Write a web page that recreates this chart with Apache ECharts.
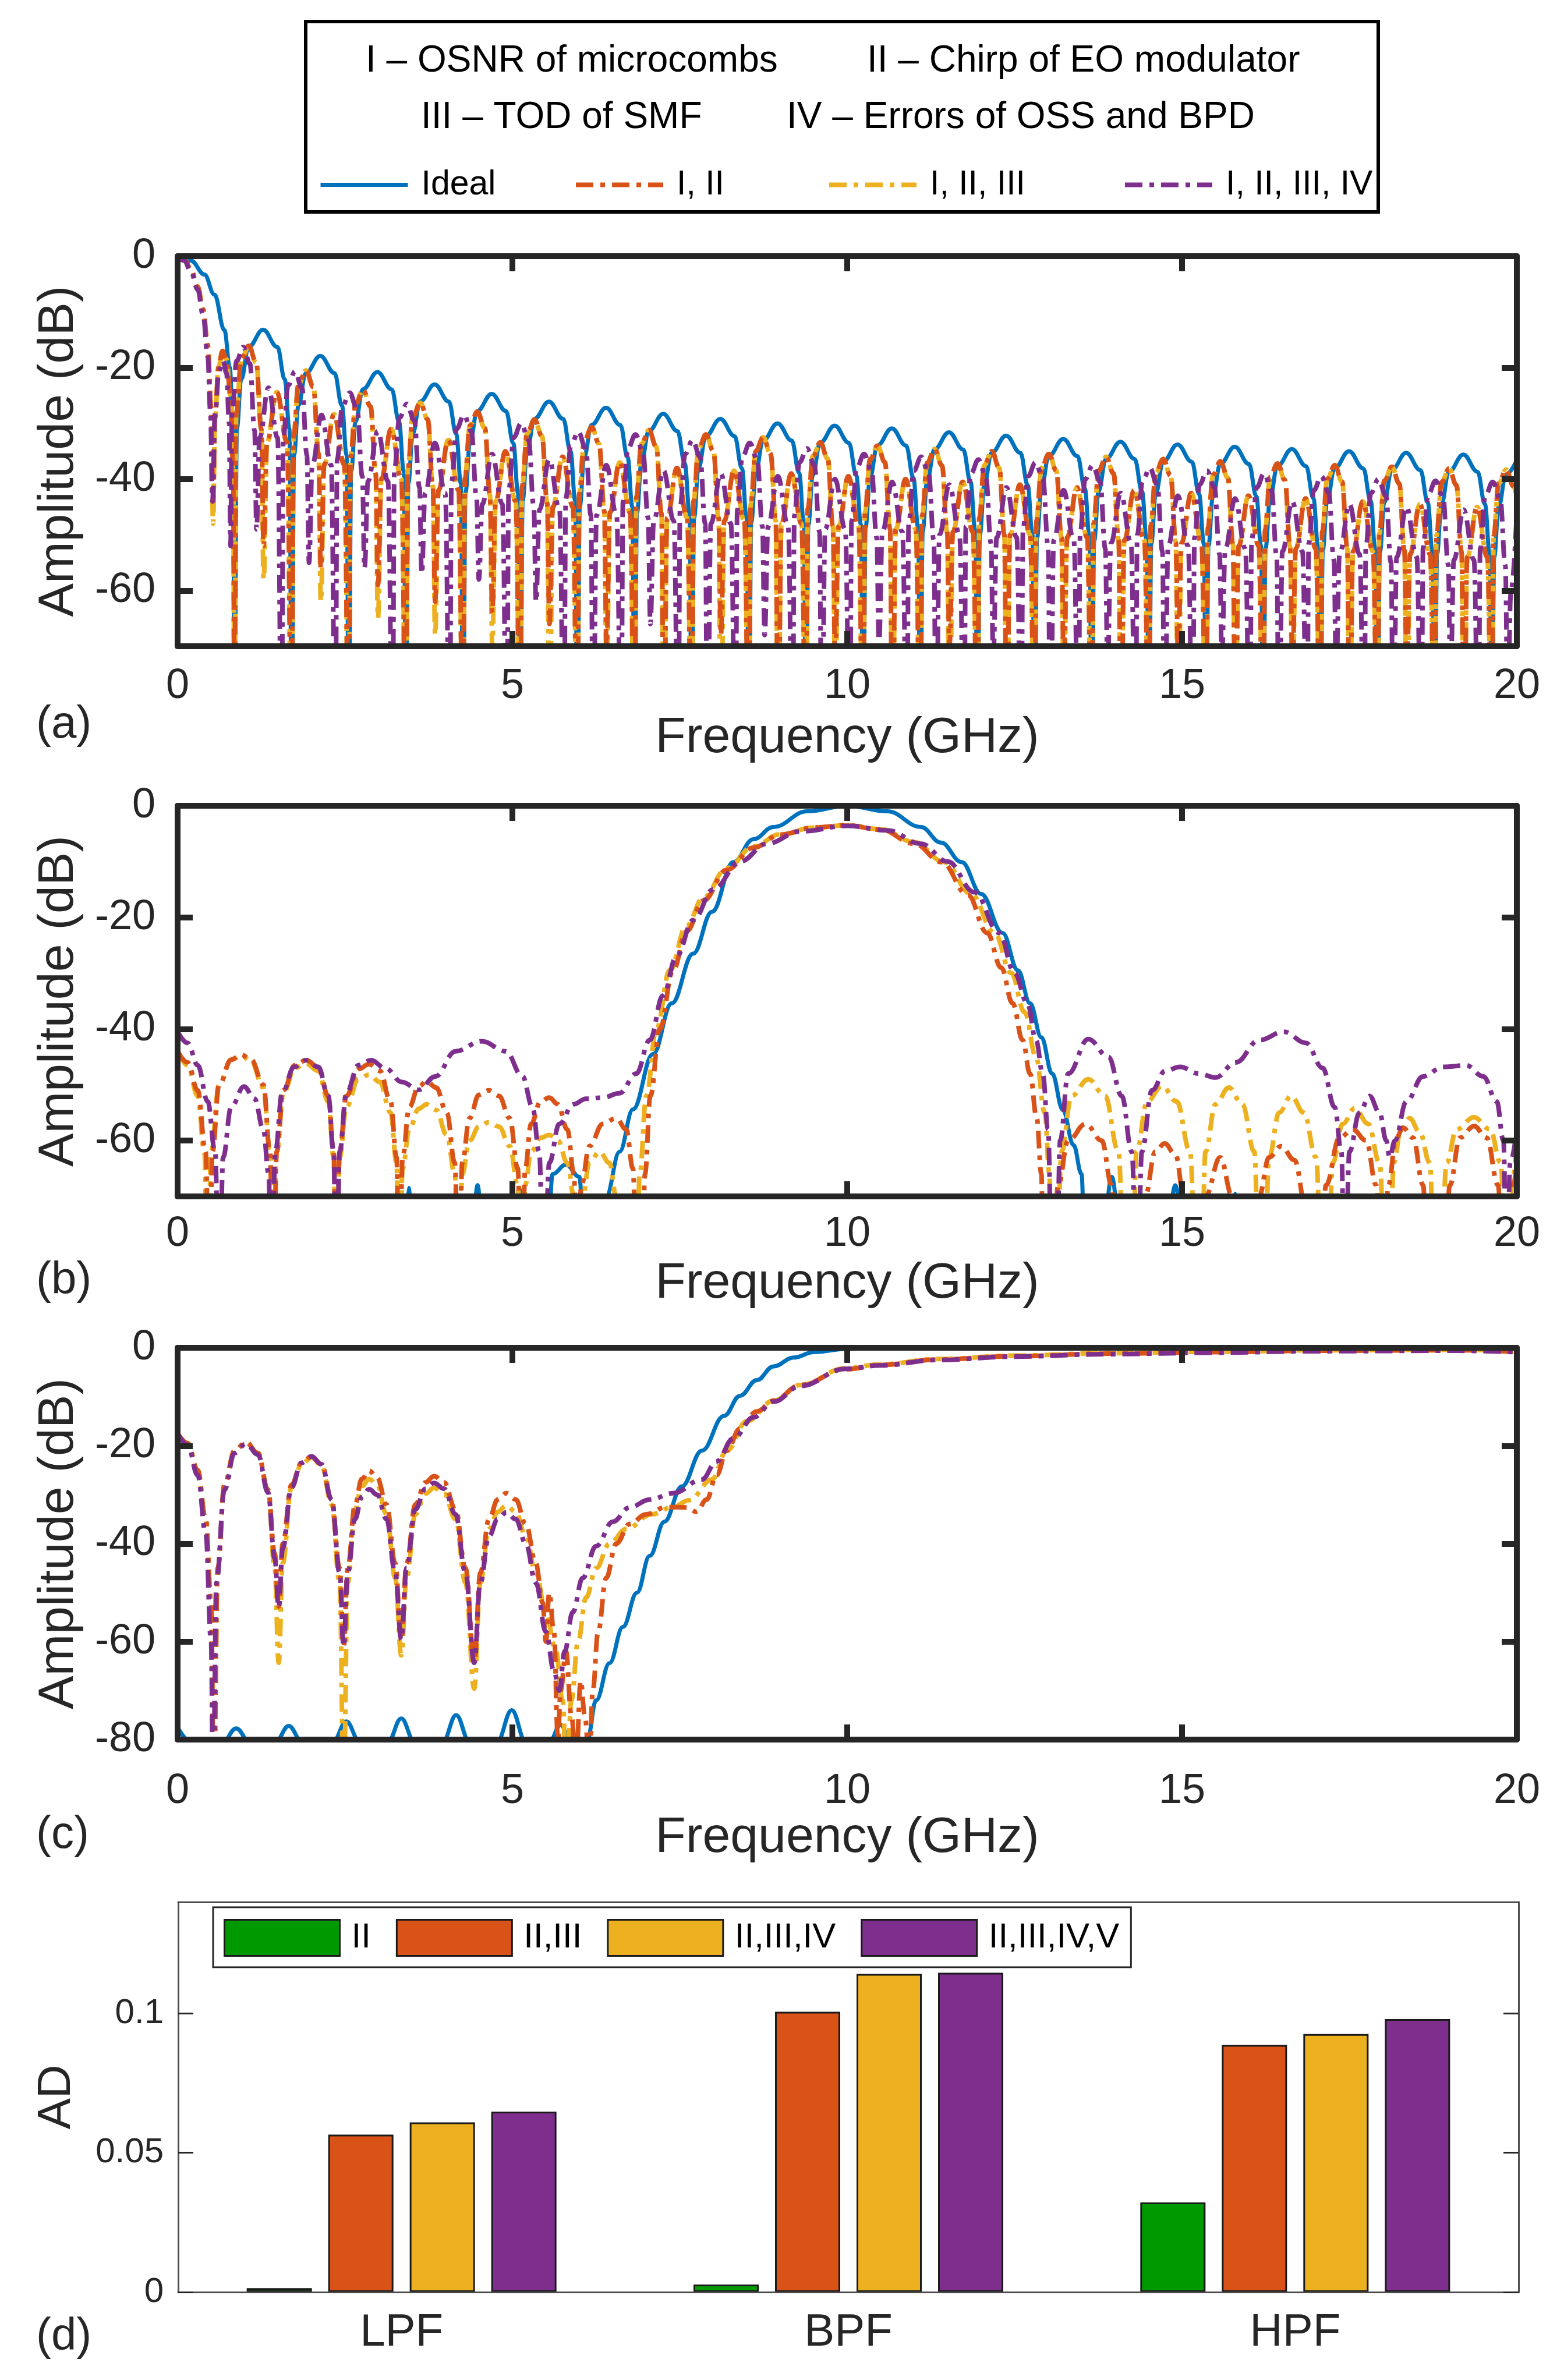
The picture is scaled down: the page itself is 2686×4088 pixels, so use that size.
<!DOCTYPE html>
<html>
<head>
<meta charset="utf-8">
<script src="https://cdn.jsdelivr.net/npm/echarts@6/dist/echarts.min.js"></script>
<style>
html,body{margin:0;padding:0;background:#fff;}
#chart{width:2686px;height:4088px;}
</style>
</head>
<body>
<div id="chart"></div>
<script>
// ---------------- DATA ----------------
const seriesNames = ['Ideal', 'I, II', 'I, II, III', 'I, II, III, IV'];
const legendNotes = ['I – OSNR of microcombs', 'II – Chirp of EO modulator', 'III – TOD of SMF', 'IV – Errors of OSS and BPD'];
const freqTicks = [0, 5, 10, 15, 20];
const dbTicksAB = [-60, -40, -20, 0];
const dbTicksC = [-80, -60, -40, -20, 0];
const adTicks = [0, 0.05, 0.1];

// (a) LPF-like response: frequency (GHz) and amplitude (dB)
const aIdealX = [0,0.2,0.4,0.55,0.7,0.78,0.83,0.85,
0.885,0.950,1.060,1.277,1.490,1.600,1.670,1.704,
1.739,1.804,1.914,2.131,2.344,2.454,2.524,2.557,
2.592,2.657,2.767,2.984,3.197,3.307,3.377,3.411,
3.446,3.511,3.621,3.838,4.051,4.161,4.231,4.264,
4.299,4.364,4.474,4.691,4.904,5.014,5.084,5.118,
5.153,5.218,5.328,5.545,5.758,5.868,5.938,5.971,
6.006,6.071,6.181,6.398,6.611,6.721,6.791,6.825,
6.860,6.925,7.035,7.252,7.465,7.575,7.645,7.678,
7.713,7.778,7.888,8.105,8.318,8.428,8.498,8.532,
8.567,8.632,8.742,8.959,9.172,9.282,9.352,9.385,
9.420,9.485,9.595,9.812,10.025,10.135,10.205,10.239,
10.274,10.339,10.449,10.666,10.879,10.989,11.059,11.092,
11.127,11.192,11.302,11.519,11.732,11.842,11.912,11.946,
11.981,12.046,12.156,12.373,12.586,12.696,12.766,12.799,
12.834,12.899,13.009,13.226,13.439,13.549,13.619,13.653,
13.688,13.753,13.863,14.080,14.293,14.403,14.473,14.506,
14.541,14.606,14.716,14.933,15.146,15.256,15.326,15.360,
15.395,15.460,15.570,15.787,16.000,16.110,16.180,16.213,
16.248,16.313,16.423,16.640,16.853,16.963,17.033,17.067,
17.102,17.167,17.277,17.494,17.707,17.817,17.887,17.920,
17.955,18.020,18.130,18.347,18.560,18.670,18.740,18.774,
18.809,18.874,18.984,19.201,19.414,19.524,19.594,19.627,
19.662,19.727,19.837,20.0];
const aIdealY = [0,-0.8,-3.3,-6.9,-13.3,-20,-32,-90,
-31.0,-22.1,-16.3,-13.2,-16.3,-22.1,-31.0,-90,
-35.7,-26.8,-21.0,-17.9,-21.0,-26.8,-35.7,-90,
-38.6,-29.7,-23.9,-20.8,-23.9,-29.7,-38.6,-90,
-40.8,-31.9,-26.1,-23.0,-26.1,-31.9,-40.8,-90,
-42.5,-33.6,-27.8,-24.7,-27.8,-33.6,-42.5,-90,
-43.9,-35.0,-29.2,-26.1,-29.2,-35.0,-43.9,-90,
-45.0,-36.1,-30.3,-27.2,-30.3,-36.1,-45.0,-90,
-46.1,-37.2,-31.4,-28.3,-31.4,-37.2,-46.1,-90,
-47.0,-38.1,-32.3,-29.2,-32.3,-38.1,-47.0,-90,
-47.8,-38.9,-33.1,-30.0,-33.1,-38.9,-47.8,-90,
-48.2,-39.3,-33.5,-30.4,-33.5,-39.3,-48.2,-90,
-48.7,-39.8,-34.0,-30.9,-34.0,-39.8,-48.7,-90,
-49.4,-40.5,-34.7,-31.6,-34.7,-40.5,-49.4,-90,
-50.0,-41.1,-35.3,-32.2,-35.3,-41.1,-50.0,-90,
-50.6,-41.7,-35.9,-32.8,-35.9,-41.7,-50.6,-90,
-51.1,-42.2,-36.4,-33.3,-36.4,-42.2,-51.1,-90,
-51.6,-42.7,-36.9,-33.8,-36.9,-42.7,-51.6,-90,
-52.0,-43.1,-37.3,-34.2,-37.3,-43.1,-52.0,-90,
-52.4,-43.5,-37.7,-34.6,-37.7,-43.5,-52.4,-90,
-52.8,-43.9,-38.1,-35.0,-38.1,-43.9,-52.8,-90,
-53.1,-44.2,-38.4,-35.3,-38.4,-44.2,-53.1,-90,
-53.4,-44.5,-38.7,-35.6,-38.7,-44.5,-53.4,-90,
-54,-45,-39.2,-36.6];

const aOrangeX = [0,0.1,0.2,0.3,0.38,0.45,0.5,0.53,0.56,0.61,0.67,0.73,0.79,0.83,0.85,
0.876,0.952,1.063,1.174,1.251,1.285,1.336,1.482,1.635,1.704,
1.730,1.806,1.917,2.028,2.105,2.139,2.190,2.336,2.489,2.557,
2.583,2.659,2.770,2.881,2.958,2.992,3.043,3.189,3.342,3.411,
3.437,3.513,3.624,3.735,3.812,3.846,3.897,4.043,4.196,4.264,
4.290,4.366,4.477,4.588,4.665,4.699,4.750,4.896,5.049,5.118,
5.144,5.220,5.331,5.442,5.519,5.553,5.604,5.750,5.903,5.971,
5.997,6.073,6.184,6.295,6.372,6.406,6.457,6.603,6.756,6.825,
6.851,6.927,7.038,7.149,7.226,7.260,7.311,7.457,7.610,7.678,
7.704,7.780,7.891,8.002,8.079,8.113,8.164,8.310,8.463,8.532,
8.558,8.634,8.745,8.856,8.933,8.967,9.018,9.164,9.317,9.385,
9.411,9.487,9.598,9.709,9.786,9.820,9.871,10.017,10.170,10.239,
10.265,10.341,10.452,10.563,10.640,10.674,10.725,10.871,11.024,11.092,
11.118,11.194,11.305,11.416,11.493,11.527,11.578,11.724,11.877,11.946,
11.972,12.048,12.159,12.270,12.347,12.381,12.432,12.578,12.731,12.799,
12.825,12.901,13.012,13.123,13.200,13.234,13.285,13.431,13.584,13.653,
13.679,13.755,13.866,13.977,14.054,14.088,14.139,14.285,14.438,14.506,
14.532,14.608,14.719,14.830,14.907,14.941,14.992,15.138,15.291,15.360,
15.386,15.462,15.573,15.684,15.761,15.795,15.846,15.992,16.145,16.213,
16.239,16.315,16.426,16.537,16.614,16.648,16.699,16.845,16.998,17.067,
17.093,17.169,17.280,17.391,17.468,17.502,17.553,17.699,17.852,17.920,
17.946,18.022,18.133,18.244,18.321,18.355,18.406,18.552,18.705,18.774,
18.800,18.876,18.987,19.098,19.175,19.209,19.260,19.406,19.559,19.627,
19.653,19.729,19.840,19.951,20.0];
const aOrangeY = [0,-0.6,-2.4,-5.5,-9.5,-16,-27,-44,-29,-20,-17,-18.5,-25,-38,-90,
-28.1,-18.6,-16.1,-19.1,-31.1,-52,-33.4,-24.4,-33.4,-90,
-32.5,-23.0,-20.5,-23.5,-35.5,-56,-37.4,-28.4,-37.4,-90,
-36,-26.5,-24,-27,-39,-59,-40,-31,-40,-90,
-38.3,-28.8,-26.3,-29.3,-41.3,-62,-42,-33,-42,-90,
-39.9,-30.4,-27.9,-30.9,-42.9,-64,-44,-35,-44,-90,
-41.3,-31.8,-29.3,-32.3,-44.3,-66,-45,-36,-45,-90,
-42.7,-33.2,-30.7,-33.7,-45.7,-70,-46,-37,-46,-90,
-43.2,-33.7,-31.2,-34.2,-46.2,-90,-47,-38,-47,-90,
-44,-34.5,-32,-35,-47,-68,-47.5,-38.5,-47.5,-90,
-44.5,-35,-32.5,-35.5,-47.5,-90,-48,-39,-48,-90,
-45.4,-35.9,-33.4,-36.4,-48.4,-72,-48.5,-39.5,-48.5,-90,
-46,-36.5,-34,-37,-49,-90,-49,-40,-49,-90,
-46.6,-37.1,-34.6,-37.6,-49.6,-70,-49.5,-40.5,-49.5,-90,
-47,-37.5,-35,-38,-50,-90,-50,-41,-50,-90,
-47.5,-38,-35.5,-38.5,-50.5,-75,-50.5,-41.5,-50.5,-90,
-48,-38.5,-36,-39,-51,-90,-51,-42,-51,-90,
-48.4,-38.9,-36.4,-39.4,-51.4,-72,-51.5,-42.5,-51.5,-90,
-48.8,-39.3,-36.8,-39.8,-51.8,-90,-52,-43,-52,-90,
-49.2,-39.7,-37.2,-40.2,-52.2,-74,-52.5,-43.5,-52.5,-90,
-49.5,-40,-37.5,-40.5,-52.5,-90,-53,-44,-53,-90,
-49.8,-40.3,-37.8,-40.8,-52.8,-76,-53.5,-44.5,-53.5,-90,
-50.1,-40.6,-38.1,-41.1,-53.1,-90,-54,-45,-54,-90,
-50.3,-40.8,-38.3,-41.3,-43.5];
const aYellowY = [0,-0.6,-2.4,-5.5,-9.5,-16,-27,-48,-29,-20,-17,-18.5,-25,-38,-90,
-28.1,-18.6,-16.1,-19.1,-31.1,-58,-33.4,-24.4,-33.4,-90,
-32.5,-23.0,-20.5,-23.5,-35.5,-62,-37.4,-28.4,-37.4,-90,
-36,-26.5,-24,-27,-39,-65,-40,-31,-40,-90,
-38.3,-28.8,-26.3,-29.3,-41.3,-68,-42,-33,-42,-90,
-39.9,-30.4,-27.9,-30.9,-42.9,-70,-44,-35,-44,-90,
-41.3,-31.8,-29.3,-32.3,-44.3,-90,-45,-36,-45,-90,
-42.7,-33.2,-30.7,-33.7,-45.7,-76,-46,-37,-46,-90,
-43.2,-33.7,-31.2,-34.2,-46.2,-90,-47,-38,-47,-90,
-44,-34.5,-32,-35,-47,-90,-47.5,-38.5,-47.5,-90,
-44.5,-35,-32.5,-35.5,-47.5,-90,-48,-39,-48,-90,
-45.4,-35.9,-33.4,-36.4,-48.4,-78,-48.5,-39.5,-48.5,-90,
-46,-36.5,-34,-37,-49,-90,-49,-40,-49,-90,
-46.6,-37.1,-34.6,-37.6,-49.6,-90,-49.5,-40.5,-49.5,-90,
-47,-37.5,-35,-38,-50,-90,-50,-41,-50,-90,
-47.5,-38,-35.5,-38.5,-50.5,-80,-50.5,-41.5,-50.5,-90,
-48,-38.5,-36,-39,-51,-90,-51,-42,-51,-90,
-48.4,-38.9,-36.4,-39.4,-51.4,-90,-51.5,-42.5,-51.5,-90,
-48.8,-39.3,-36.8,-39.8,-51.8,-90,-52,-43,-52,-90,
-49.2,-39.7,-37.2,-40.2,-52.2,-80,-52.5,-43.5,-52.5,-90,
-49.5,-40,-37.5,-40.5,-52.5,-90,-53,-44,-53,-90,
-49.8,-40.3,-37.8,-40.8,-52.8,-90,-53.5,-44.5,-53.5,-90,
-50.1,-40.6,-38.1,-41.1,-53.1,-90,-54,-45,-54,-90,
-50.3,-40.8,-38.3,-41.3,-43.5];

const aPurpleX = [0,0.1,0.2,0.3,0.38,0.45,0.49,0.52,0.56,0.62,0.68,0.73,0.77,0.79,
0.813,0.881,0.981,1.080,1.149,1.179,1.225,1.356,1.493,1.554,
1.578,1.650,1.754,1.859,1.931,1.963,2.011,2.149,2.293,2.357,
2.383,2.459,2.570,2.681,2.758,2.792,2.843,2.989,3.142,3.211,
3.237,3.313,3.424,3.535,3.612,3.646,3.697,3.843,3.996,4.064,
4.090,4.166,4.277,4.388,4.465,4.499,4.550,4.696,4.849,4.918,
4.944,5.020,5.131,5.242,5.319,5.353,5.404,5.550,5.703,5.771,
5.797,5.873,5.984,6.095,6.172,6.206,6.257,6.403,6.556,6.625,
6.651,6.727,6.838,6.949,7.026,7.060,7.111,7.257,7.410,7.478,
7.504,7.580,7.691,7.802,7.879,7.913,7.964,8.110,8.263,8.332,
8.358,8.434,8.545,8.656,8.733,8.767,8.818,8.964,9.117,9.185,
9.211,9.287,9.398,9.509,9.586,9.620,9.671,9.817,9.970,10.039,
10.065,10.141,10.252,10.363,10.440,10.474,10.525,10.671,10.824,10.892,
10.918,10.994,11.105,11.216,11.293,11.327,11.378,11.524,11.677,11.746,
11.772,11.848,11.959,12.070,12.147,12.181,12.232,12.378,12.531,12.599,
12.625,12.701,12.812,12.923,13.000,13.034,13.085,13.231,13.384,13.453,
13.479,13.555,13.666,13.777,13.854,13.888,13.939,14.085,14.238,14.306,
14.332,14.408,14.519,14.630,14.707,14.741,14.792,14.938,15.091,15.160,
15.186,15.262,15.373,15.484,15.561,15.595,15.646,15.792,15.945,16.013,
16.039,16.115,16.226,16.337,16.414,16.448,16.499,16.645,16.798,16.867,
16.893,16.969,17.080,17.191,17.268,17.302,17.353,17.499,17.652,17.720,
17.746,17.822,17.933,18.044,18.121,18.155,18.206,18.352,18.505,18.574,
18.600,18.676,18.787,18.898,18.975,19.009,19.060,19.206,19.359,19.427,
19.453,19.529,19.640,19.751,19.828,19.862,19.913,20.0];
const aPurpleY = [0,-0.8,-2.8,-6,-10.5,-18,-28,-44,-28,-20.5,-18.8,-21,-30,-52,
-28.3,-18.8,-16.3,-19.3,-31.3,-49,-32.6,-23.6,-32.6,-90,
-32.7,-23.2,-20.7,-23.7,-35.7,-55,-37.5,-28.5,-37.5,-90,
-36.5,-27,-24.5,-27.5,-39.5,-56,-40.4,-31.4,-40.4,-90,
-38.5,-29,-26.5,-29.5,-41.5,-57,-42.5,-33.5,-42.5,-90,
-40.5,-31,-28.5,-31.5,-43.5,-58,-44.5,-35.5,-44.5,-90,
-42,-32.5,-30,-33,-45,-62,-45.5,-36.5,-45.5,-90,
-43.5,-34,-31.5,-34.5,-46.5,-90,-46.5,-37.5,-46.5,-90,
-44,-34.5,-32,-35,-47,-66,-47.5,-38.5,-47.5,-90,
-45,-35.5,-33,-36,-48,-90,-48,-39,-48,-90,
-45.5,-36,-33.5,-36.5,-48.5,-68,-48.5,-39.5,-48.5,-90,
-46.5,-37,-34.5,-37.5,-49.5,-90,-49,-40,-49,-90,
-47.5,-38,-35.5,-38.5,-50.5,-70,-49.5,-40.5,-49.5,-90,
-48,-38.5,-36,-39,-51,-90,-50,-41,-50,-90,
-48.5,-39,-36.5,-39.5,-51.5,-72,-50.5,-41.5,-50.5,-90,
-49,-39.5,-37,-40,-52,-90,-51,-42,-51,-90,
-49.5,-40,-37.5,-40.5,-52.5,-74,-51.5,-42.5,-51.5,-90,
-50,-40.5,-38,-41,-53,-90,-52,-43,-52,-90,
-50.5,-41,-38.5,-41.5,-53.5,-72,-52.5,-43.5,-52.5,-90,
-51,-41.5,-39,-42,-54,-90,-53,-44,-53,-90,
-51.5,-42,-39.5,-42.5,-54.5,-75,-53.5,-44.5,-53.5,-90,
-52,-42.5,-40,-43,-55,-90,-54,-45,-54,-90,
-52.3,-42.8,-40.3,-43.3,-55.3,-76,-54.5,-45.5,-54.5,-90,
-52.5,-43,-40.5,-43.5,-55.5,-80,-60,-46];

// (b) BPF response [GHz, dB]
const bIdeal = [[3.35,-90],[3.45,-68.5],[3.55,-90],[4.35,-90],[4.48,-68],[4.6,-90],[5.0,-90],[5.1,-68.5],[5.2,-90],[5.5,-90],[5.6,-66],[5.8,-64.3],[6.0,-66.5],[6.1,-90],[6.3,-90],[6.4,-70],[6.6,-62],[6.8,-54.4],[7.1,-44.5],[7.38,-35.4],[7.7,-26.5],[7.98,-19],[8.3,-10.1],[8.6,-6],[8.9,-3.8],[9.4,-1.0],[10.0,0],[10.6,-1.0],[11.1,-3.8],[11.4,-6.6],[11.71,-10.1],[12.0,-15.8],[12.32,-22.8],[12.55,-29.5],[12.73,-35.4],[12.9,-41.5],[13.06,-48],[13.22,-54.5],[13.38,-60.8],[13.5,-66],[13.56,-90],[13.75,-90],[13.95,-66.5],[14.15,-90],[14.7,-90],[14.9,-68],[15.1,-90],[15.7,-90],[15.8,-69.5],[15.9,-90]];
const bOrange = [[0,-44],[0.15,-46],[0.3,-51],[0.42,-62],[0.47,-90],[0.52,-62],[0.62,-50],[0.8,-45.5],[0.95,-44.6],[1.1,-45.5],[1.28,-50],[1.38,-62],[1.43,-90],[1.48,-62],[1.58,-51],[1.75,-46.5],[1.92,-45.6],[2.1,-46.8],[2.25,-52],[2.33,-62],[2.37,-90],[2.42,-62],[2.52,-52],[2.7,-47.2],[2.86,-46.3],[3.02,-47.5],[3.18,-53],[3.27,-63],[3.31,-90],[3.36,-63],[3.46,-54],[3.6,-50.3],[3.72,-49.4],[3.86,-50.5],[4.02,-55],[4.14,-64],[4.2,-90],[4.25,-64],[4.36,-56],[4.5,-51.8],[4.65,-51],[4.8,-52],[4.96,-56],[5.08,-65],[5.14,-90],[5.19,-65],[5.28,-57],[5.42,-53],[5.55,-52.3],[5.68,-53.5],[5.82,-58],[5.92,-66],[5.96,-90],[6.03,-68],[6.15,-61],[6.35,-57],[6.55,-56],[6.7,-58],[6.8,-65],[6.86,-90],[6.93,-90],[6.98,-66],[7.06,-52],[7.2,-40],[7.4,-29.5],[7.6,-22.5],[7.85,-17],[8.2,-11.5],[8.6,-7.5],[9.0,-5.2],[9.5,-3.9],[10.0,-3.5],[10.5,-4.3],[11.0,-6.8],[11.41,-10.1],[11.8,-16],[12.09,-22.8],[12.3,-29],[12.47,-35.4],[12.62,-42],[12.73,-48],[12.83,-56],[12.9,-66],[12.93,-90],[13.05,-90],[13.15,-68],[13.3,-60],[13.56,-57],[13.8,-60],[13.95,-68],[14.02,-90],[14.3,-90],[14.45,-70],[14.6,-62],[14.74,-60.5],[14.9,-62.5],[15.05,-72],[15.12,-90],[15.25,-90],[15.35,-70],[15.57,-63],[15.75,-70],[15.85,-90],[16.05,-90],[16.15,-70],[16.3,-63],[16.48,-61],[16.68,-63.5],[16.85,-72],[16.92,-90],[17.05,-90],[17.15,-68],[17.35,-59.5],[17.55,-58],[17.75,-60],[17.9,-68],[17.97,-90],[18.0,-90],[18.08,-68],[18.2,-59.5],[18.3,-57.7],[18.45,-59.5],[18.6,-68],[18.68,-90],[18.9,-90],[19.0,-68],[19.15,-59.5],[19.36,-57.4],[19.55,-59.5],[19.72,-68],[19.8,-90],[19.88,-90],[19.95,-68],[20,-63]];
const bYellow = [[0,-44],[0.15,-46.5],[0.3,-52],[0.4,-62],[0.45,-90],[0.5,-62],[0.62,-50],[0.8,-45.5],[0.95,-44.8],[1.1,-45.8],[1.28,-50.5],[1.38,-62],[1.43,-90],[1.48,-62],[1.58,-51.5],[1.75,-47],[1.92,-46.2],[2.1,-47.5],[2.25,-53],[2.33,-63],[2.37,-90],[2.42,-63],[2.52,-54],[2.7,-49],[2.86,-48.2],[3.02,-49.5],[3.18,-55],[3.27,-64],[3.31,-90],[3.36,-65],[3.46,-58],[3.6,-54.3],[3.72,-53.5],[3.86,-54.5],[4.02,-59],[4.14,-66],[4.2,-90],[4.25,-66],[4.36,-60],[4.5,-57.5],[4.65,-56.7],[4.8,-57.5],[4.96,-61],[5.08,-68],[5.14,-90],[5.19,-68],[5.28,-62],[5.42,-59.5],[5.55,-59],[5.68,-60],[5.82,-64],[5.92,-70],[5.96,-90],[6.05,-70],[6.15,-64],[6.3,-62],[6.45,-64],[6.55,-70],[6.6,-90],[6.85,-90],[6.9,-66],[7.0,-52],[7.15,-40],[7.35,-29.5],[7.6,-21.5],[7.85,-16.5],[8.2,-11.2],[8.6,-7.3],[9.0,-5.1],[9.5,-3.9],[10.0,-3.5],[10.5,-4.2],[11.0,-6.5],[11.45,-10.1],[11.85,-15.8],[12.2,-22.8],[12.45,-30],[12.65,-37],[12.82,-45],[12.95,-55],[13.02,-66],[13.05,-90],[13.12,-90],[13.2,-62],[13.35,-52],[13.6,-49],[13.85,-52],[14.05,-62],[14.15,-90],[14.25,-90],[14.32,-62],[14.48,-53],[14.7,-50.2],[14.92,-53],[15.12,-62],[15.22,-90],[15.28,-90],[15.35,-62],[15.5,-53.5],[15.7,-50.5],[15.9,-53.5],[16.08,-62],[16.16,-90],[16.22,-90],[16.3,-63],[16.45,-55],[16.63,-52],[16.82,-55],[17.0,-63],[17.1,-90],[17.17,-90],[17.25,-64],[17.4,-57],[17.58,-54.2],[17.78,-57],[17.95,-64],[18.05,-90],[18.1,-90],[18.16,-64],[18.27,-58],[18.4,-56],[18.55,-58.5],[18.7,-64],[18.78,-90],[18.85,-90],[18.95,-64],[19.1,-58],[19.36,-55.8],[19.6,-58],[19.76,-64],[19.84,-90],[19.9,-90],[19.95,-66],[20,-60]];
const bPurple = [[0,-40.5],[0.15,-42.5],[0.3,-46.5],[0.45,-53],[0.56,-62],[0.62,-90],[0.68,-63],[0.8,-54],[0.99,-50.3],[1.15,-52.5],[1.28,-58],[1.36,-66],[1.4,-90],[1.46,-62],[1.56,-51.5],[1.74,-46.8],[1.92,-45.6],[2.1,-46.8],[2.25,-52],[2.33,-62],[2.37,-90],[2.42,-62],[2.52,-51.5],[2.7,-46.5],[2.89,-45.6],[3.1,-47],[3.35,-49.5],[3.6,-50.9],[3.85,-48.5],[4.15,-44],[4.54,-42.2],[4.9,-44],[5.15,-48.5],[5.3,-54],[5.4,-62],[5.47,-90],[5.55,-64],[5.7,-57],[5.91,-53.5],[6.1,-52.5],[6.35,-52.3],[6.6,-51.5],[6.85,-48],[7.05,-42],[7.25,-34],[7.45,-27],[7.7,-20.5],[8.0,-15],[8.4,-10],[8.8,-6.8],[9.3,-4.6],[10.0,-3.6],[10.6,-4.4],[11.1,-6.8],[11.5,-10],[11.9,-15.5],[12.27,-22.8],[12.5,-30],[12.69,-35.4],[12.82,-42],[12.92,-48],[13.0,-58],[13.06,-90],[13.12,-90],[13.18,-60],[13.3,-48],[13.6,-41.8],[13.9,-45],[14.1,-52],[14.25,-62],[14.33,-90],[14.4,-62],[14.55,-51],[14.75,-47.5],[14.97,-46.8],[15.25,-48],[15.5,-48.7],[15.8,-46],[16.15,-42],[16.52,-40.5],[16.85,-42.5],[17.1,-47],[17.28,-54],[17.38,-62],[17.43,-90],[17.5,-62],[17.65,-55],[17.8,-52],[17.95,-55],[18.05,-60],[18.1,-63],[18.18,-60],[18.35,-53],[18.6,-48.5],[18.9,-46.8],[19.24,-46.5],[19.5,-48.5],[19.7,-53],[19.8,-60],[19.85,-90],[19.9,-64],[20,-58]];

// (c) HPF response [GHz, dB]
const cIdeal = [[0,-77.5],[0.2,-80.5],[0.46,-95],[0.675,-80.5],[0.875,-77.7],[1.075,-80.5],[1.29,-95],[1.46,-80.5],[1.66,-77.2],[1.86,-80.5],[2.09,-95],[2.32,-80.5],[2.52,-76.3],[2.72,-80.5],[2.93,-95],[3.14,-80.5],[3.34,-75.7],[3.54,-80.5],[3.75,-95],[3.96,-80.5],[4.16,-75],[4.36,-80.5],[4.57,-95],[4.77,-80.5],[4.99,-74],[5.2,-80.5],[5.4,-95],[5.55,-80.5],[5.72,-77],[5.88,-80.5],[6.02,-95],[6.12,-80],[6.25,-72],[6.45,-64.4],[6.65,-57],[6.86,-50],[7.05,-42.5],[7.27,-35.5],[7.53,-28.3],[7.83,-21],[8.16,-13.9],[8.4,-9.8],[8.65,-6.6],[8.9,-3.8],[9.2,-2.0],[9.5,-0.9],[10.0,-0.2],[11,0],[20,0]];
const cOrange = [[0,-17.5],[0.15,-19.5],[0.3,-25],[0.42,-35],[0.5,-52],[0.54,-90],[0.6,-45],[0.7,-28],[0.85,-21],[1.02,-19.3],[1.2,-21.5],[1.35,-29],[1.45,-42],[1.51,-52.8],[1.57,-40],[1.7,-28],[1.85,-23.5],[2.0,-22.2],[2.15,-23.8],[2.3,-31],[2.42,-45],[2.48,-61],[2.54,-45],[2.65,-32],[2.75,-26.8],[2.86,-25.1],[2.98,-26.5],[3.12,-32],[3.25,-44],[3.34,-59.6],[3.42,-44],[3.55,-32],[3.7,-27.5],[3.83,-26.2],[3.98,-27.5],[4.15,-33],[4.3,-45],[4.43,-64.3],[4.52,-46],[4.65,-35],[4.78,-31],[4.91,-29.7],[5.05,-31],[5.2,-36],[5.35,-44],[5.45,-52],[5.5,-60],[5.55,-50],[5.62,-58],[5.68,-80],[5.72,-70],[5.8,-62],[5.88,-75],[5.95,-85],[6.02,-68],[6.08,-75],[6.15,-85],[6.2,-70],[6.28,-58],[6.4,-47],[6.55,-40],[6.75,-36],[7.0,-34],[7.3,-32.5],[7.6,-32.6],[7.75,-33.5],[7.9,-31],[8.05,-26],[8.2,-21],[8.4,-16.5],[8.65,-13],[8.9,-10.8],[9.3,-7.6],[9.97,-4.4],[10.5,-3.5],[11.35,-2.4],[12.5,-1.7],[13.9,-1.2],[15.5,-0.9],[17,-0.6],[19.1,-0.5],[20,-0.8]];
const cYellow = [[0,-17.5],[0.15,-19.5],[0.3,-25],[0.42,-35],[0.5,-52],[0.54,-90],[0.6,-45],[0.7,-28],[0.85,-21],[1.02,-19.3],[1.2,-21.5],[1.35,-29],[1.45,-45],[1.51,-64.3],[1.57,-44],[1.7,-28.5],[1.85,-23.8],[2.0,-22.4],[2.15,-24],[2.3,-32],[2.42,-48],[2.48,-90],[2.54,-48],[2.65,-33],[2.75,-28.3],[2.86,-26.8],[2.98,-28],[3.12,-34],[3.25,-47],[3.34,-62.8],[3.42,-47],[3.55,-34],[3.7,-29.8],[3.83,-28.6],[3.98,-29.8],[4.15,-35],[4.3,-48],[4.43,-69.6],[4.52,-48],[4.65,-37],[4.78,-33.5],[4.91,-32.2],[5.05,-33.5],[5.2,-38.5],[5.35,-46],[5.5,-54],[5.65,-62],[5.75,-72],[5.81,-90],[5.88,-72],[5.98,-60],[6.1,-51],[6.25,-45],[6.45,-40],[6.7,-37],[7.08,-34],[7.4,-32.5],[7.64,-31.1],[7.98,-26.9],[8.2,-21],[8.5,-15],[8.9,-10.8],[9.3,-7.6],[9.97,-4.2],[10.5,-3.4],[11.35,-2.3],[12.5,-1.6],[13.9,-1.1],[15.5,-0.8],[17,-0.5],[19.1,-0.4],[20,-0.7]];
const cPurple = [[0,-17.5],[0.15,-19.8],[0.3,-26],[0.42,-38],[0.5,-60],[0.53,-90],[0.58,-48],[0.7,-29],[0.85,-21.5],[1.02,-19.6],[1.2,-21.8],[1.35,-29.5],[1.45,-43],[1.51,-53],[1.57,-41],[1.7,-28.5],[1.85,-23.5],[2.0,-22.2],[2.15,-23.8],[2.3,-31],[2.42,-46],[2.48,-61],[2.54,-46],[2.65,-35],[2.75,-30.5],[2.86,-28.9],[2.98,-30],[3.12,-35],[3.25,-46],[3.34,-59.6],[3.42,-45],[3.55,-33],[3.7,-28.8],[3.83,-27.6],[3.98,-28.8],[4.15,-34],[4.3,-46],[4.43,-64.3],[4.52,-48],[4.65,-38.5],[4.78,-35],[4.91,-33.6],[5.05,-35],[5.2,-40],[5.35,-48],[5.5,-58],[5.62,-66],[5.7,-70],[5.78,-62],[5.9,-54],[6.05,-47],[6.25,-40.5],[6.5,-35.5],[6.75,-32.6],[7.05,-31],[7.4,-29.7],[7.83,-26.9],[8.05,-23.2],[8.3,-18.5],[8.6,-14.2],[8.9,-11],[9.3,-7.8],[9.97,-4.3],[10.5,-3.6],[11.35,-2.5],[12.5,-1.8],[13.9,-1.3],[15.5,-1.0],[17,-0.7],[19.1,-0.6],[20,-0.9]];

// (d) amplitude deviation bars
const dCategories = ['LPF', 'BPF', 'HPF'];
const dNames = ['II', 'II,III', 'II,III,IV', 'II,III,IV,V'];
const adII = [0.0014, 0.0027, 0.0322];
const adIIIII = [0.0565, 0.1006, 0.0887];
const adIIIIIIV = [0.0609, 0.1142, 0.0926];
const adIIIIIIVV = [0.0648, 0.1146, 0.0980];

// ---------------- CHART ----------------
const FONT = '"Liberation Sans", Arial, Helvetica, sans-serif';
const TXT = '#262626';
const FRAME = '#262626';
const COL = { blue: '#0072BD', orange: '#D95319', yellow: '#EDB120', purple: '#7E2F8E', green: '#009900' };
const DASHDOT = [30, 12, 8, 12];

const zip = (xs, ys) => xs.map((x, i) => [x, ys[i]]);

const chart = echarts.init(document.getElementById('chart'), null, { renderer: 'canvas', width: 2686, height: 4088 });

const grids = [
  { left: 305, top: 440, width: 2300, height: 670 },
  { left: 305, top: 1384, width: 2300, height: 671 },
  { left: 305, top: 2315, width: 2300, height: 673 },
  { left: 306, top: 3267, width: 2302, height: 670 }
];

function frameLine() { return { show: true, onZero: false, lineStyle: { color: FRAME, width: 10 } }; }
function frameTick(custom) {
  const t = { show: true, inside: true, length: 26, lineStyle: { color: FRAME, width: 10 } };
  if (custom) t.customValues = custom;
  return t;
}

const xAxes = [];
const yAxes = [];
const xLabelMargins = [33, 29, 53];
const xNameGaps = [115, 107, 126];
const yMins = [-70, -70, -80];
const yTickSets = [dbTicksAB, dbTicksAB, dbTicksC];
for (let g = 0; g < 3; g++) {
  xAxes.push({
    type: 'value', gridIndex: g, min: freqTicks[0], max: freqTicks[freqTicks.length - 1], interval: 5,
    position: 'bottom', z: 10, axisLine: frameLine(), axisTick: frameTick(), splitLine: { show: false },
    axisLabel: { fontSize: 72, color: TXT, margin: xLabelMargins[g], fontFamily: FONT },
    name: 'Frequency (GHz)', nameLocation: 'middle', nameGap: xNameGaps[g],
    nameTextStyle: { fontSize: 86, color: TXT, fontFamily: FONT }
  });
  xAxes.push({
    type: 'value', gridIndex: g, min: 0, max: 20, interval: 5, position: 'top', z: 10,
    axisLine: frameLine(), axisTick: frameTick(), splitLine: { show: false }, axisLabel: { show: false }
  });
  yAxes.push({
    type: 'value', gridIndex: g, min: yMins[g], max: 0, position: 'left', z: 10,
    axisLine: frameLine(), axisTick: frameTick(yTickSets[g]), splitLine: { show: false },
    axisLabel: { customValues: yTickSets[g], fontSize: 72, color: TXT, margin: 38, fontFamily: FONT },
    name: 'Amplitude (dB)', nameLocation: 'middle', nameGap: 161,
    nameTextStyle: { fontSize: 86, color: TXT, fontFamily: FONT }
  });
  yAxes.push({
    type: 'value', gridIndex: g, min: yMins[g], max: 0, position: 'right', z: 10,
    axisLine: frameLine(), axisTick: frameTick(yTickSets[g]), splitLine: { show: false },
    axisLabel: { show: false }
  });
}
// panel (d)
const dLine = { show: true, onZero: false, lineStyle: { color: '#4d4d4d', width: 3 } };
xAxes.push({
  type: 'category', gridIndex: 3, data: dCategories, position: 'bottom', z: 10,
  axisLine: dLine, axisTick: { show: false },
  axisLabel: { fontSize: 78, color: TXT, margin: 31, fontFamily: FONT }
});
xAxes.push({
  type: 'category', gridIndex: 3, data: dCategories, position: 'top', z: 10,
  axisLine: dLine, axisTick: { show: false }, axisLabel: { show: false }
});
yAxes.push({
  type: 'value', gridIndex: 3, min: 0, max: 0.14, position: 'left', z: 10,
  axisLine: dLine,
  axisTick: { show: true, inside: true, length: 26, customValues: adTicks, lineStyle: { color: TXT, width: 3 } },
  axisLabel: { customValues: adTicks, fontSize: 60, color: TXT, margin: 25, fontFamily: FONT },
  splitLine: { show: false },
  name: 'AD', nameLocation: 'middle', nameGap: 168,
  nameTextStyle: { fontSize: 80, color: TXT, fontFamily: FONT }
});
yAxes.push({
  type: 'value', gridIndex: 3, min: 0, max: 0.14, position: 'right', z: 10,
  axisLine: dLine,
  axisTick: { show: true, inside: true, length: 26, customValues: adTicks, lineStyle: { color: TXT, width: 3 } },
  axisLabel: { show: false }, splitLine: { show: false }
});

function line(name, data, color, panel, dashed) {
  return {
    type: 'line', name: name, data: data, xAxisIndex: panel * 2, yAxisIndex: panel * 2,
    symbol: 'none', showSymbol: false, smooth: 0.4, smoothMonotone: 'x', clip: true,
    lineStyle: { color: color, width: dashed ? 8 : 7, type: dashed ? DASHDOT : 'solid', cap: 'butt' },
    itemStyle: { color: color }, emphasis: { disabled: true }
  };
}

const series = [
  line(seriesNames[0], zip(aIdealX, aIdealY), COL.blue, 0, false),
  line(seriesNames[2], zip(aOrangeX, aYellowY), COL.yellow, 0, true),
  line(seriesNames[1], zip(aOrangeX, aOrangeY), COL.orange, 0, true),
  line(seriesNames[3], zip(aPurpleX, aPurpleY), COL.purple, 0, true),
  line(seriesNames[0], bIdeal, COL.blue, 1, false),
  line(seriesNames[2], bYellow, COL.yellow, 1, true),
  line(seriesNames[1], bOrange, COL.orange, 1, true),
  line(seriesNames[3], bPurple, COL.purple, 1, true),
  line(seriesNames[0], cIdeal, COL.blue, 2, false),
  line(seriesNames[2], cYellow, COL.yellow, 2, true),
  line(seriesNames[1], cOrange, COL.orange, 2, true),
  line(seriesNames[3], cPurple, COL.purple, 2, true)
];
const barSets = [adII, adIIIII, adIIIIIIV, adIIIIIIVV];
const barCols = [COL.green, COL.orange, COL.yellow, COL.purple];
barSets.forEach((vals, i) => {
  series.push({
    type: 'bar', name: dNames[i], data: vals, xAxisIndex: 6, yAxisIndex: 6,
    barWidth: 112, barGap: '25%',
    itemStyle: { color: barCols[i], borderColor: '#1a1a1a', borderWidth: 3 },
    emphasis: { disabled: true }
  });
});

const topLegendLefts = [547, 985, 1420, 1928];
const legends = seriesNames.map((n, i) => ({
  data: [n], left: topLegendLefts[i], top: 288, padding: 0, orient: 'horizontal',
  itemWidth: 150, itemHeight: 14, selectedMode: false,
  itemStyle: { opacity: 0 },
  lineStyle: { width: i === 0 ? 7 : 8 },
  textStyle: { fontSize: 59, color: '#000', fontFamily: FONT, padding: [0, 0, 0, 18] }
}));
legends.push({
  data: dNames, left: 366, top: 3276, padding: [20, 20, 18, 18], orient: 'horizontal',
  itemWidth: 198, itemHeight: 62, itemGap: 43, icon: 'rect', selectedMode: false,
  borderColor: TXT, borderWidth: 3, backgroundColor: '#fff',
  itemStyle: { borderColor: '#1a1a1a', borderWidth: 3 },
  textStyle: { fontSize: 60, color: '#000', fontFamily: FONT, padding: [0, 0, 0, 15] }
});

const graphic = [
  { type: 'rect', z: 0, shape: { x: 525, y: 37, width: 1842, height: 327 }, style: { fill: '#fff', stroke: '#000', lineWidth: 6 } },
  { type: 'text', z: 5, x: 628, y: 105, style: { text: legendNotes[0], fontSize: 64, fontFamily: FONT, fill: '#000', verticalAlign: 'middle', align: 'left' } },
  { type: 'text', z: 5, x: 1489, y: 105, style: { text: legendNotes[1], fontSize: 64, fontFamily: FONT, fill: '#000', verticalAlign: 'middle', align: 'left' } },
  { type: 'text', z: 5, x: 723, y: 202, style: { text: legendNotes[2], fontSize: 64, fontFamily: FONT, fill: '#000', verticalAlign: 'middle', align: 'left' } },
  { type: 'text', z: 5, x: 1351, y: 202, style: { text: legendNotes[3], fontSize: 64, fontFamily: FONT, fill: '#000', verticalAlign: 'middle', align: 'left' } },
  { type: 'text', z: 5, x: 62, y: 1245, style: { text: '(a)', fontSize: 78, fontFamily: FONT, fill: TXT, verticalAlign: 'middle' } },
  { type: 'text', z: 5, x: 62, y: 2200, style: { text: '(b)', fontSize: 78, fontFamily: FONT, fill: TXT, verticalAlign: 'middle' } },
  { type: 'text', z: 5, x: 62, y: 3152, style: { text: '(c)', fontSize: 78, fontFamily: FONT, fill: TXT, verticalAlign: 'middle' } },
  { type: 'text', z: 5, x: 62, y: 4014, style: { text: '(d)', fontSize: 78, fontFamily: FONT, fill: TXT, verticalAlign: 'middle' } }
];

chart.setOption({
  animation: false,
  backgroundColor: '#ffffff',
  textStyle: { fontFamily: FONT },
  grid: grids,
  xAxis: xAxes,
  yAxis: yAxes,
  legend: legends,
  graphic: graphic,
  series: series
});
</script>
</body>
</html>
